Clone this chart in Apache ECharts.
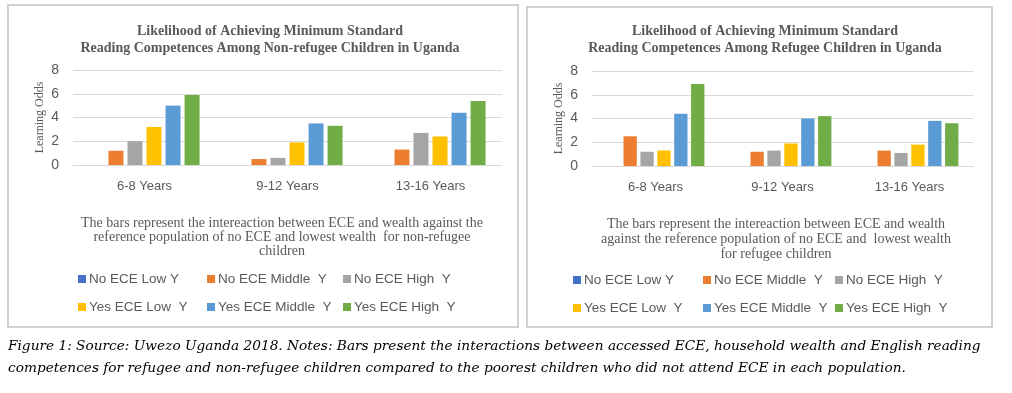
<!DOCTYPE html>
<html><head><meta charset="utf-8">
<script src="https://cdn.jsdelivr.net/npm/echarts@6/dist/echarts.min.js"></script>
<style>html,body{margin:0;padding:0;background:#fff}#c{width:1012px;height:393px}</style>
</head><body><div id="c"></div>
<script>
const categories = ['6-8 Years', '9-12 Years', '13-16 Years'];
const seriesNames = ['No ECE Low Y', 'No ECE Middle  Y', 'No ECE High  Y', 'Yes ECE Low  Y', 'Yes ECE Middle  Y', 'Yes ECE High  Y'];
// Non-refugee children (left chart)
const nonRefNoLow = [null, null, null];
const nonRefNoMid = [1.2, 0.5, 1.3];
const nonRefNoHigh = [2.0, 0.6, 2.7];
const nonRefYesLow = [3.2, 1.9, 2.4];
const nonRefYesMid = [5.0, 3.5, 4.4];
const nonRefYesHigh = [5.9, 3.3, 5.4];
// Refugee children (right chart)
const refNoLow = [null, null, null];
const refNoMid = [2.5, 1.2, 1.3];
const refNoHigh = [1.2, 1.3, 1.1];
const refYesLow = [1.3, 1.9, 1.8];
const refYesMid = [4.4, 4.0, 3.8];
const refYesHigh = [6.9, 4.2, 3.6];
const yTicks = {min: 0, max: 8, interval: 2};

const titleLeft = 'Likelihood of Achieving Minimum Standard\nReading Competences Among Non-refugee Children in Uganda';
const titleRight = 'Likelihood of Achieving Minimum Standard\nReading Competences Among Refugee Children in Uganda';
const noteLeft = 'The bars represent the intereaction between ECE and wealth against the\nreference population of no ECE and lowest wealth  for non-refugee\nchildren';
const noteRight = 'The bars represent the intereaction between ECE and wealth\nagainst the reference population of no ECE and  lowest wealth\nfor refugee children';
const caption1 = 'Figure 1: Source: Uwezo Uganda 2018. Notes: Bars present the interactions between accessed ECE, household wealth and English reading';
const caption2 = 'competences for refugee and non-refugee children compared to the poorest children who did not attend ECE in each population.';

const colors = ['#4472C4', '#ED7D31', '#A5A5A5', '#FFC000', '#5B9BD5', '#70AD47'];
const leftData = [nonRefNoLow, nonRefNoMid, nonRefNoHigh, nonRefYesLow, nonRefYesMid, nonRefYesHigh];
const rightData = [refNoLow, refNoMid, refNoHigh, refYesLow, refYesMid, refYesHigh];

const grey = '#595959';
const serif = 'Liberation Serif';
const sans = 'Liberation Sans';

function mkX(gi) {
  return {gridIndex: gi, type: 'category', data: categories,
    axisLine: {lineStyle: {color: '#d9d9d9'}}, axisTick: {show: false},
    axisLabel: {color: grey, fontFamily: sans, fontSize: 13, margin: 15}};
}
function mkY(gi) {
  return {gridIndex: gi, type: 'value', min: yTicks.min, max: yTicks.max, interval: yTicks.interval,
    name: 'Learning Odds', nameLocation: 'middle', nameRotate: 90, nameGap: 27,
    nameTextStyle: {color: grey, fontFamily: serif, fontSize: 12},
    axisLabel: {color: grey, fontFamily: sans, fontSize: 14, margin: 14},
    splitLine: {lineStyle: {color: '#d9d9d9'}}, axisLine: {show: false}, axisTick: {show: false}};
}
const series = [];
seriesNames.forEach((n, i) => {
  series.push({name: n, type: 'bar', xAxisIndex: 0, yAxisIndex: 0, data: leftData[i],
    itemStyle: {color: colors[i]}, barGap: '27%', barCategoryGap: '23%'});
});
seriesNames.forEach((n, i) => {
  series.push({name: n, type: 'bar', xAxisIndex: 1, yAxisIndex: 1, data: rightData[i],
    itemStyle: {color: colors[i]}, barGap: '27%', barCategoryGap: '23%'});
});

// legend layout: per panel 3 columns x 2 rows
const legendPos = [
  {cols: [78, 207, 343], rows: [272, 300]},
  {cols: [573, 703, 835], rows: [273, 301]}
];
const legends = [];
legendPos.forEach(p => {
  seriesNames.forEach((n, i) => {
    legends.push({data: [n], left: p.cols[i % 3], top: p.rows[Math.floor(i / 3)],
      itemWidth: 8, itemHeight: 8, itemGap: 0, padding: 0, icon: 'rect',
      textStyle: {color: grey, fontFamily: sans, fontSize: 13.5, padding: [0, 0, 0, -2]},
      selectedMode: false});
  });
});

const chart = echarts.init(document.getElementById('c'), null, {renderer: 'canvas'});
chart.setOption({
  animation: false,
  color: colors,
  title: [
    {text: titleLeft, left: 265, top: 18, textAlign: 'center',
      textStyle: {color: grey, fontFamily: serif, fontWeight: 'bold', fontSize: 14, lineHeight: 17}},
    {text: titleRight, left: 760, top: 18, textAlign: 'center',
      textStyle: {color: grey, fontFamily: serif, fontWeight: 'bold', fontSize: 14, lineHeight: 17}},
    {text: noteLeft, left: 277, top: 211, textAlign: 'center',
      textStyle: {color: grey, fontFamily: serif, fontWeight: 'normal', fontSize: 14, lineHeight: 14.3, align: 'center'}},
    {text: noteRight, left: 771, top: 212, textAlign: 'center',
      textStyle: {color: grey, fontFamily: serif, fontWeight: 'normal', fontSize: 14, lineHeight: 15, align: 'center'}}
  ],
  legend: legends,
  grid: [
    {left: 73, top: 70, width: 429, height: 95},
    {left: 592, top: 71, width: 381, height: 95}
  ],
  xAxis: [mkX(0), mkX(1)],
  yAxis: [mkY(0), mkY(1)],
  series: series,
  graphic: [
    {type: 'rect', shape: {x: 8, y: 5, width: 510, height: 322}, style: {fill: 'none', stroke: '#d0d0d0', lineWidth: 2}, silent: true},
    {type: 'rect', shape: {x: 527, y: 7, width: 465, height: 320}, style: {fill: 'none', stroke: '#d0d0d0', lineWidth: 2}, silent: true},
    {type: 'text', left: 8, top: 339, style: {text: caption1, fill: '#000', font: 'italic 13.7px "DejaVu Serif"'}},
    {type: 'text', left: 8, top: 361, style: {text: caption2, fill: '#000', font: 'italic 13.7px "DejaVu Serif"'}}
  ]
});
</script></body></html>
